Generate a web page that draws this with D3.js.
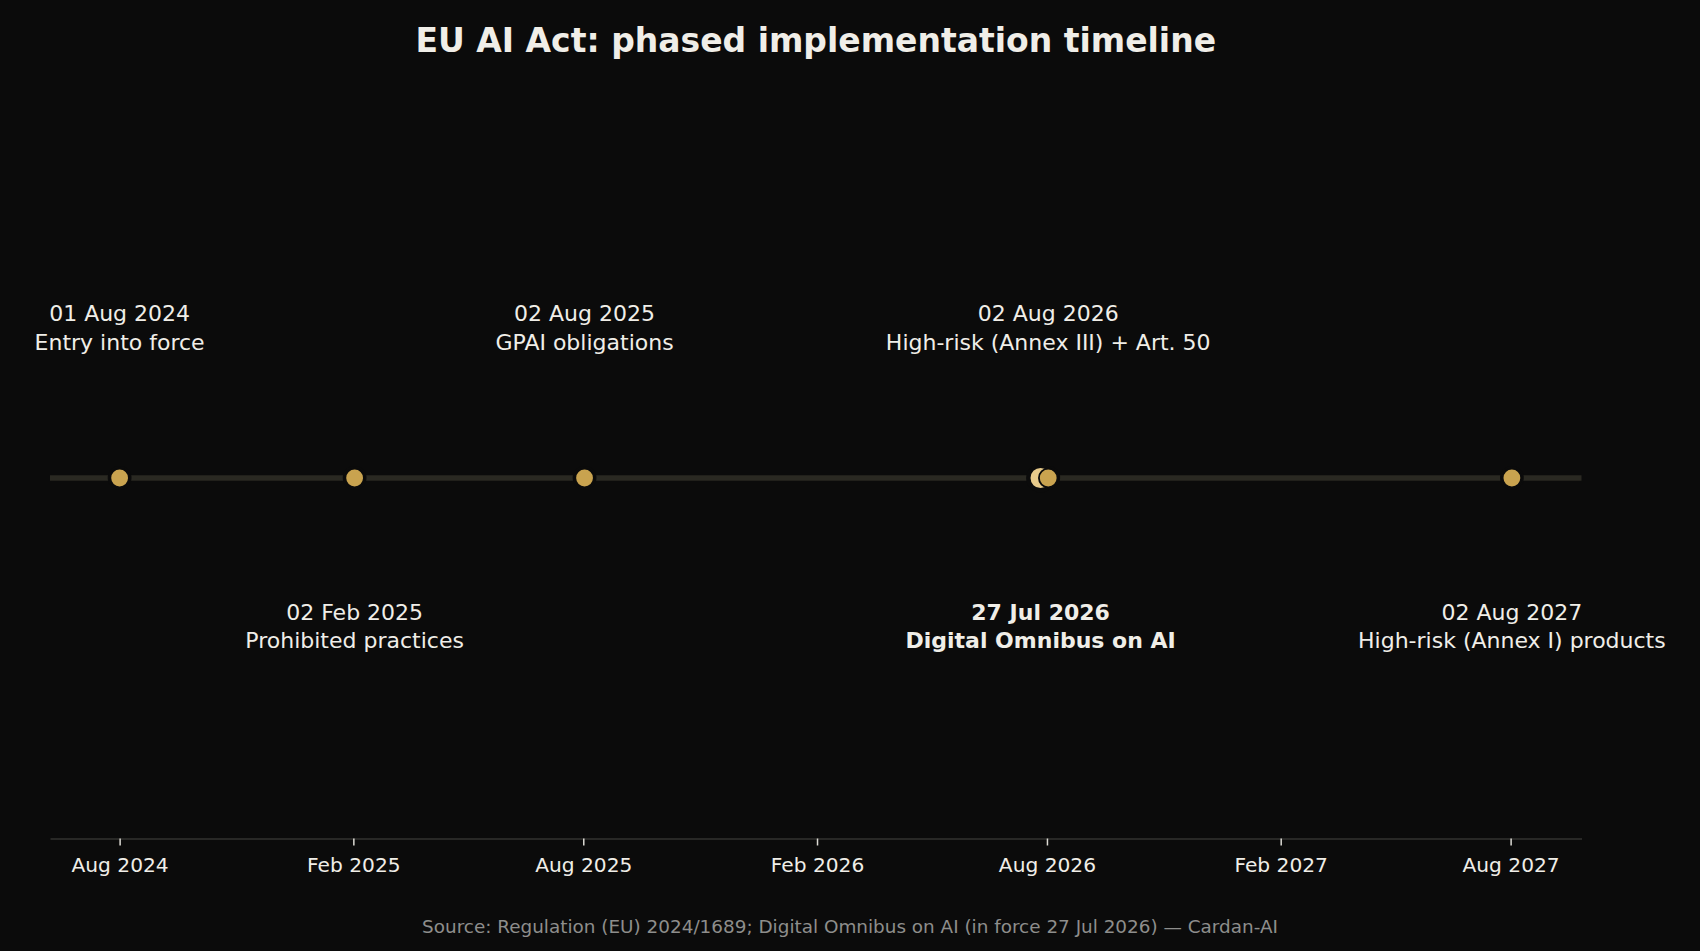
<!DOCTYPE html>
<html>
<head>
<meta charset="utf-8">
<script src="https://cdn.jsdelivr.net/npm/d3@7/dist/d3.min.js"></script>
<style>
  html, body { margin: 0; padding: 0; background: #0b0b0b; }
  svg { display: block; }
</style>
</head>
<body>
<div id="chart"></div>
<script>
// ---- data ----
const eventDates = ["2024-08-01", "2025-02-02", "2025-08-02", "2026-07-27", "2026-08-02", "2027-08-02"];
const eventDateLabels = ["01 Aug 2024", "02 Feb 2025", "02 Aug 2025", "27 Jul 2026", "02 Aug 2026", "02 Aug 2027"];
const eventTitles = ["Entry into force", "Prohibited practices", "GPAI obligations", "Digital Omnibus on AI", "High-risk (Annex III) + Art. 50", "High-risk (Annex I) products"];
const eventSides = ["up", "down", "up", "down", "up", "down"];
const eventHighlight = [false, false, false, true, false, false];
const tickDates = ["2024-08-01", "2025-02-01", "2025-08-01", "2026-02-01", "2026-08-01", "2027-02-01", "2027-08-01"];
const tickLabels = ["Aug 2024", "Feb 2025", "Aug 2025", "Feb 2026", "Aug 2026", "Feb 2027", "Aug 2027"];
const titleText = "EU AI Act: phased implementation timeline";
const sourceText = "Source: Regulation (EU) 2024/1689; Digital Omnibus on AI (in force 27 Jul 2026) — Cardan-AI";

// ---- layout ----
const W = 1700, H = 951;
const margin = { left: 50, right: 1700 - 1581.5, top: 117.5, bottom: 951 - 838.5 };
const FONT = "'DejaVu Sans', sans-serif";
const C = {
  bg: "#0b0b0b", text: "#f0eee8", gold: "#c9a34f", light: "#e8cb8b",
  line: "#2a2922", spine: "#333331", tick: "#dcdad4", source: "#8e8e8c"
};

const parse = d3.utcParse("%Y-%m-%d");
const events = eventDates.map((d, i) => ({
  date: parse(d), dateLabel: eventDateLabels[i], title: eventTitles[i],
  side: eventSides[i], hl: eventHighlight[i]
}));

const svg = d3.select("#chart").append("svg").attr("width", W).attr("height", H);
svg.append("rect").attr("width", W).attr("height", H).attr("fill", C.bg);

const ext = d3.extent(events, d => d.date);
const span = ext[1] - ext[0];
const x = d3.scaleUtc()
  .domain([new Date(+ext[0] - 0.05 * span), new Date(+ext[1] + 0.05 * span)])
  .range([margin.left, W - margin.right]);
const y = d3.scaleLinear().domain([-1, 1]).range([H - margin.bottom, margin.top]);

// title
svg.append("text")
  .attr("x", (x.range()[0] + x.range()[1]) / 2).attr("y", 51.5)
  .attr("text-anchor", "middle").attr("font-family", FONT)
  .attr("font-size", 33).attr("font-weight", "bold").attr("fill", C.text)
  .text(titleText);

// x axis
const xAxis = d3.axisBottom(x)
  .tickValues(tickDates.map(parse))
  .tickFormat((d, i) => tickLabels[i])
  .tickSizeInner(7).tickSizeOuter(0).tickPadding(12);
const gx = svg.append("g").attr("transform", `translate(0,${y(-1)})`).call(xAxis);
gx.select(".domain").attr("stroke", C.spine).attr("stroke-width", 1.6);
gx.selectAll(".tick line").attr("stroke", C.tick).attr("stroke-width", 1.5);
gx.selectAll(".tick text").attr("fill", C.text).attr("font-family", FONT).attr("font-size", 20.2)
  .attr("dy", "0.71em");

// timeline line
svg.append("line")
  .attr("x1", x.range()[0]).attr("x2", x.range()[1])
  .attr("y1", y(0)).attr("y2", y(0))
  .attr("stroke", C.line).attr("stroke-width", 5.5);

const regular = events.filter(d => !d.hl);
// gaps cut in the line by regular dots
svg.selectAll("circle.gap").data(regular).join("circle")
  .attr("class", "gap")
  .attr("cx", d => x(d.date)).attr("cy", y(0))
  .attr("r", 11.9).attr("fill", C.bg);

// highlight dot
svg.selectAll("circle.hl").data(events.filter(d => d.hl)).join("circle")
  .attr("class", "hl")
  .attr("cx", d => x(d.date)).attr("cy", y(0))
  .attr("r", 12.3).attr("fill", C.light)
  .attr("stroke", C.bg).attr("stroke-width", 4.4);

// regular dots with thin dark ring
svg.selectAll("circle.ev").data(regular).join("circle")
  .attr("class", "ev")
  .attr("cx", d => x(d.date)).attr("cy", y(0))
  .attr("r", 9.3).attr("fill", C.gold)
  .attr("stroke", C.bg).attr("stroke-width", 1.8);

// labels
const lineH = 28.6;
const lab = svg.selectAll("text.lab").data(events).join("text")
  .attr("class", "lab")
  .attr("text-anchor", "middle").attr("font-family", FONT)
  .attr("font-size", 22).attr("fill", C.text)
  .attr("font-weight", d => d.hl ? "bold" : "normal");
lab.each(function(d) {
  const t = d3.select(this);
  const cx = x(d.date);
  const base1 = d.side === "up" ? y(0) - 128 - lineH : y(0) + 141.5;
  t.append("tspan").attr("x", cx).attr("y", base1).text(d.dateLabel);
  t.append("tspan").attr("x", cx).attr("y", base1 + lineH).text(d.title);
});

// source
svg.append("text")
  .attr("x", W / 2).attr("y", 932.7)
  .attr("text-anchor", "middle").attr("font-family", FONT)
  .attr("font-size", 18.4).attr("fill", C.source)
  .text(sourceText);
</script>
</body>
</html>
